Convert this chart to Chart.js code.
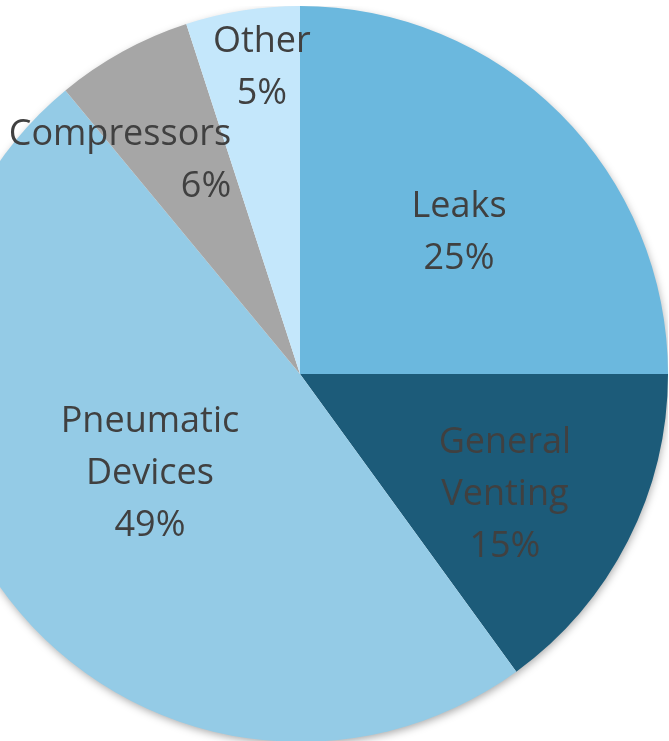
<!DOCTYPE html>
<html>
<head>
<meta charset="utf-8">
<script src="https://cdn.jsdelivr.net/npm/chart.js@4/dist/chart.umd.min.js"></script>
<style>
  html, body { margin: 0; padding: 0; background: #fff; overflow: hidden; width: 669px; height: 741px; }
  /* pie is bigger than the window, it runs off the left edge */
  #wrap { position: absolute; left: -68px; top: 6px; width: 736px; height: 736px; }
</style>
</head>
<body>
<div id="wrap"><canvas id="pie"></canvas></div>
<script>
// data
var categories = ['Leaks', 'General Venting', 'Pneumatic Devices', 'Compressors', 'Other'];
var shares = [25, 15, 49, 6, 5];
var labelLines = [['Leaks'], ['General', 'Venting'], ['Pneumatic', 'Devices'], ['Compressors'], ['Other']];

// style
var sliceColors = ['#6bb8de', '#1c5b79', '#94cbe6', '#a6a6a6', '#c4e7fb'];
var labelRadius = [0.586, 0.641, 0.484, 0.766, 0.85];
var labelTurn = [2.5, 2.7, 5.2, -10.9, 2.0];
var labelAlign = ['center', 'center', 'center', 'right', 'center'];

var shadowPlugin = {
  id: 'shadow',
  beforeDatasetsDraw: function(chart)
  {
    var arc = chart.getDatasetMeta(0).data[0];
    var ctx = chart.ctx;
    ctx.save();
    ctx.shadowColor = 'rgba(0,0,0,0.35)';
    ctx.shadowBlur = 8;
    ctx.shadowOffsetX = 1;
    ctx.shadowOffsetY = 3;
    ctx.fillStyle = '#fff';
    ctx.beginPath();
    ctx.arc(arc.x, arc.y, arc.outerRadius - 1, 0, Math.PI * 2);
    ctx.fill();
    ctx.restore();
  }
};

var labelPlugin = {
  id: 'sliceLabels',
  afterDatasetsDraw: function(chart)
  {
    var ctx = chart.ctx;
    var total = shares.reduce(function(a, b) { return a + b; }, 0);
    ctx.save();
    ctx.font = '36px "Open Sans"';
    ctx.fillStyle = '#404040';
    ctx.textBaseline = 'middle';
    chart.getDatasetMeta(0).data.forEach(function(arc, i)
    {
      var mid = (arc.startAngle + arc.endAngle) / 2 + labelTurn[i] * Math.PI / 180;
      var r = arc.outerRadius * labelRadius[i];
      var cx = arc.x + Math.cos(mid) * r;
      var cy = arc.y + Math.sin(mid) * r + 4;
      var lines = labelLines[i].concat([Math.round(shares[i] / total * 100) + '%']);
      var lh = 52;
      var maxW = 0;
      lines.forEach(function(t) { maxW = Math.max(maxW, ctx.measureText(t).width); });
      var top = cy - (lines.length - 1) * lh / 2;
      lines.forEach(function(t, k)
      {
        var x = cx;
        if(labelAlign[i] == 'right') { ctx.textAlign = 'right'; x = cx + maxW / 2; }
        else ctx.textAlign = 'center';
        ctx.fillText(t, x, top + k * lh);
      });
    });
    ctx.restore();
  }
};

new Chart(document.getElementById('pie'), {
  type: 'pie',
  data: {
    labels: categories,
    datasets: [{
      data: shares,
      backgroundColor: sliceColors,
      borderWidth: 0
    }]
  },
  options: {
    responsive: true,
    maintainAspectRatio: false,
    animation: false,
    layout: { padding: 0 },
    plugins: {
      legend: { display: false },
      tooltip: { enabled: false }
    }
  },
  plugins: [shadowPlugin, labelPlugin]
});
</script>
</body>
</html>
